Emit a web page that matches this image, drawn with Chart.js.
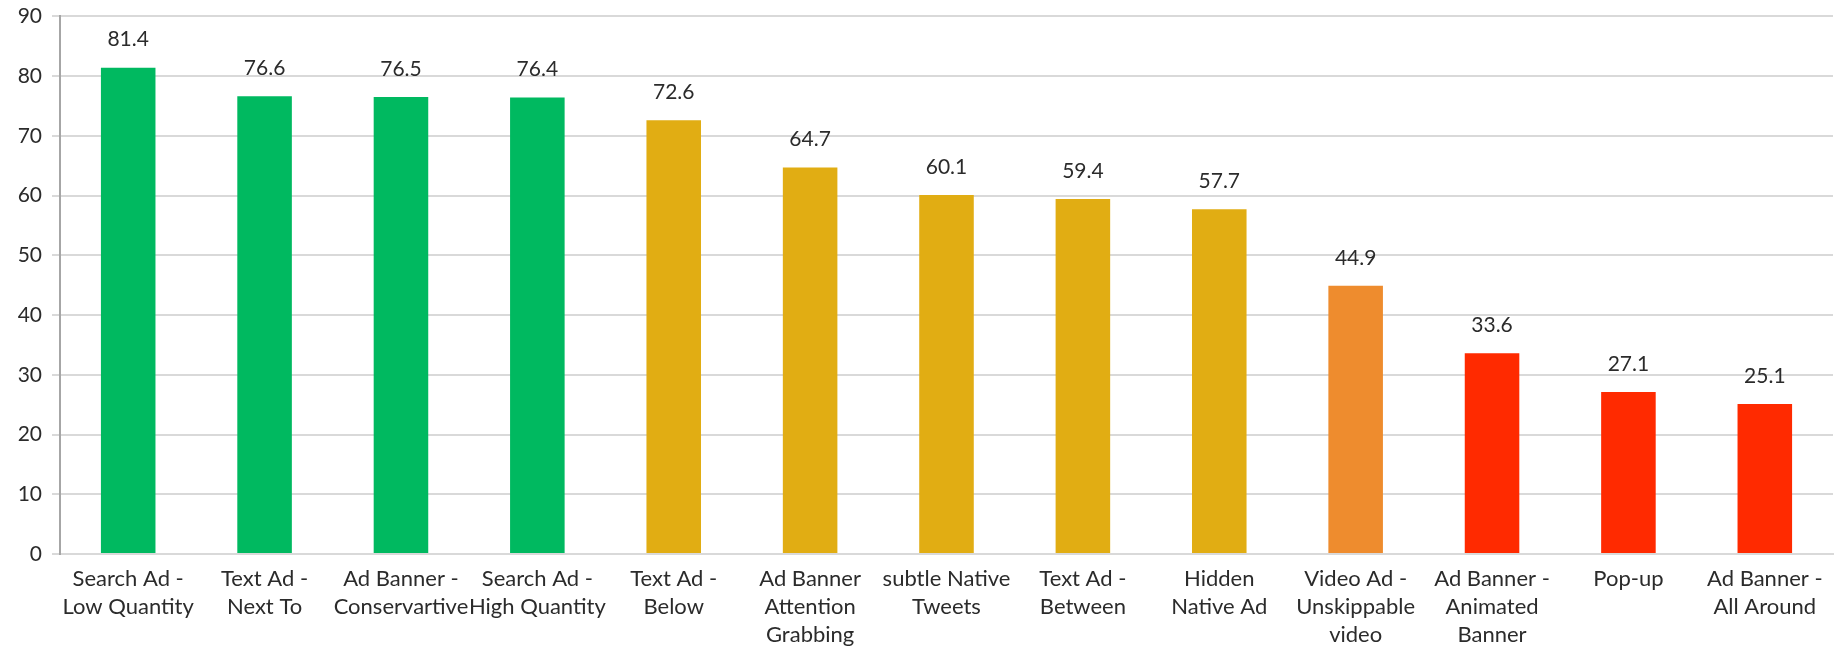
<!DOCTYPE html>
<html>
<head>
<meta charset="utf-8">
<script src="https://cdn.jsdelivr.net/npm/chart.js@4"></script>
<style>
  body { margin: 0; background: #fff; }
  #wrap { width: 1835px; height: 647px; }
</style>
</head>
<body>
<div id="wrap"><canvas id="myChart"></canvas></div>
<script>
const labels = [
  ['Search Ad -', 'Low Quantity'],
  ['Text Ad -', 'Next To'],
  ['Ad Banner -', 'Conservartive'],
  ['Search Ad -', 'High Quantity'],
  ['Text Ad -', 'Below'],
  ['Ad Banner', 'Attention', 'Grabbing'],
  ['subtle Native', 'Tweets'],
  ['Text Ad -', 'Between'],
  ['Hidden', 'Native Ad'],
  ['Video Ad -', 'Unskippable', 'video'],
  ['Ad Banner -', 'Animated', 'Banner'],
  ['Pop-up'],
  ['Ad Banner -', 'All Around']
]
const values = [81.4, 76.6, 76.5, 76.4, 72.6, 64.7, 60.1, 59.4, 57.7, 44.9, 33.6, 27.1, 25.1]
const groups = ['good', 'good', 'good', 'good', 'mid', 'mid', 'mid', 'mid', 'mid', 'warn', 'bad', 'bad', 'bad']
const yTicks = [0, 10, 20, 30, 40, 50, 60, 70, 80, 90]

const groupColors = { good: '#00B960', mid: '#E1AD13', warn: '#EE8C2E', bad: '#FF2A00' }
const textColor = '#2b2b2b'
const fontFamily = 'Lato, "Open Sans", sans-serif'

// value labels above bars
const barValues = {
  id: 'barValues',
  afterDatasetsDraw(chart) {
    const ctx = chart.ctx
    const meta = chart.getDatasetMeta(0)
    ctx.save()
    ctx.font = '21px ' + fontFamily
    ctx.fillStyle = textColor
    ctx.textAlign = 'center'
    ctx.textBaseline = 'middle'
    meta.data.forEach((bar, i) => {
      ctx.fillText(values[i].toFixed(1), bar.x, bar.y - 28)
    })
    ctx.restore()
  }
}

new Chart(document.getElementById('myChart'), {
  type: 'bar',
  data: {
    labels: labels,
    datasets: [{
      data: values,
      backgroundColor: groups.map(g => groupColors[g]),
      categoryPercentage: 1,
      barPercentage: 0.4
    }]
  },
  options: {
    responsive: true,
    maintainAspectRatio: false,
    animation: false,
    layout: { padding: { top: 4, right: 2, left: 0, bottom: 0 } },
    plugins: {
      legend: { display: false },
      tooltip: { enabled: false }
    },
    scales: {
      x: {
        grid: { display: false, drawTicks: false },
        border: { color: '#d9d9d9', width: 2 },
        ticks: {
          autoSkip: false,
          maxRotation: 0,
          padding: 11,
          color: textColor,
          font: { family: fontFamily, size: 22, lineHeight: 1.27 }
        },
        afterFit(scale) { scale.height = 93 }
      },
      y: {
        min: yTicks[0],
        max: yTicks[yTicks.length - 1],
        grid: { color: '#d9d9d9', lineWidth: 2, tickLength: 8 },
        border: { color: '#a6a6a6', width: 2 },
        ticks: {
          stepSize: 10,
          padding: 10,
          color: textColor,
          font: { family: fontFamily, size: 21, lineHeight: 0.6 }
        },
        afterFit(scale) { scale.width = 60 }
      }
    }
  },
  plugins: [barValues]
})
</script>
</body>
</html>
